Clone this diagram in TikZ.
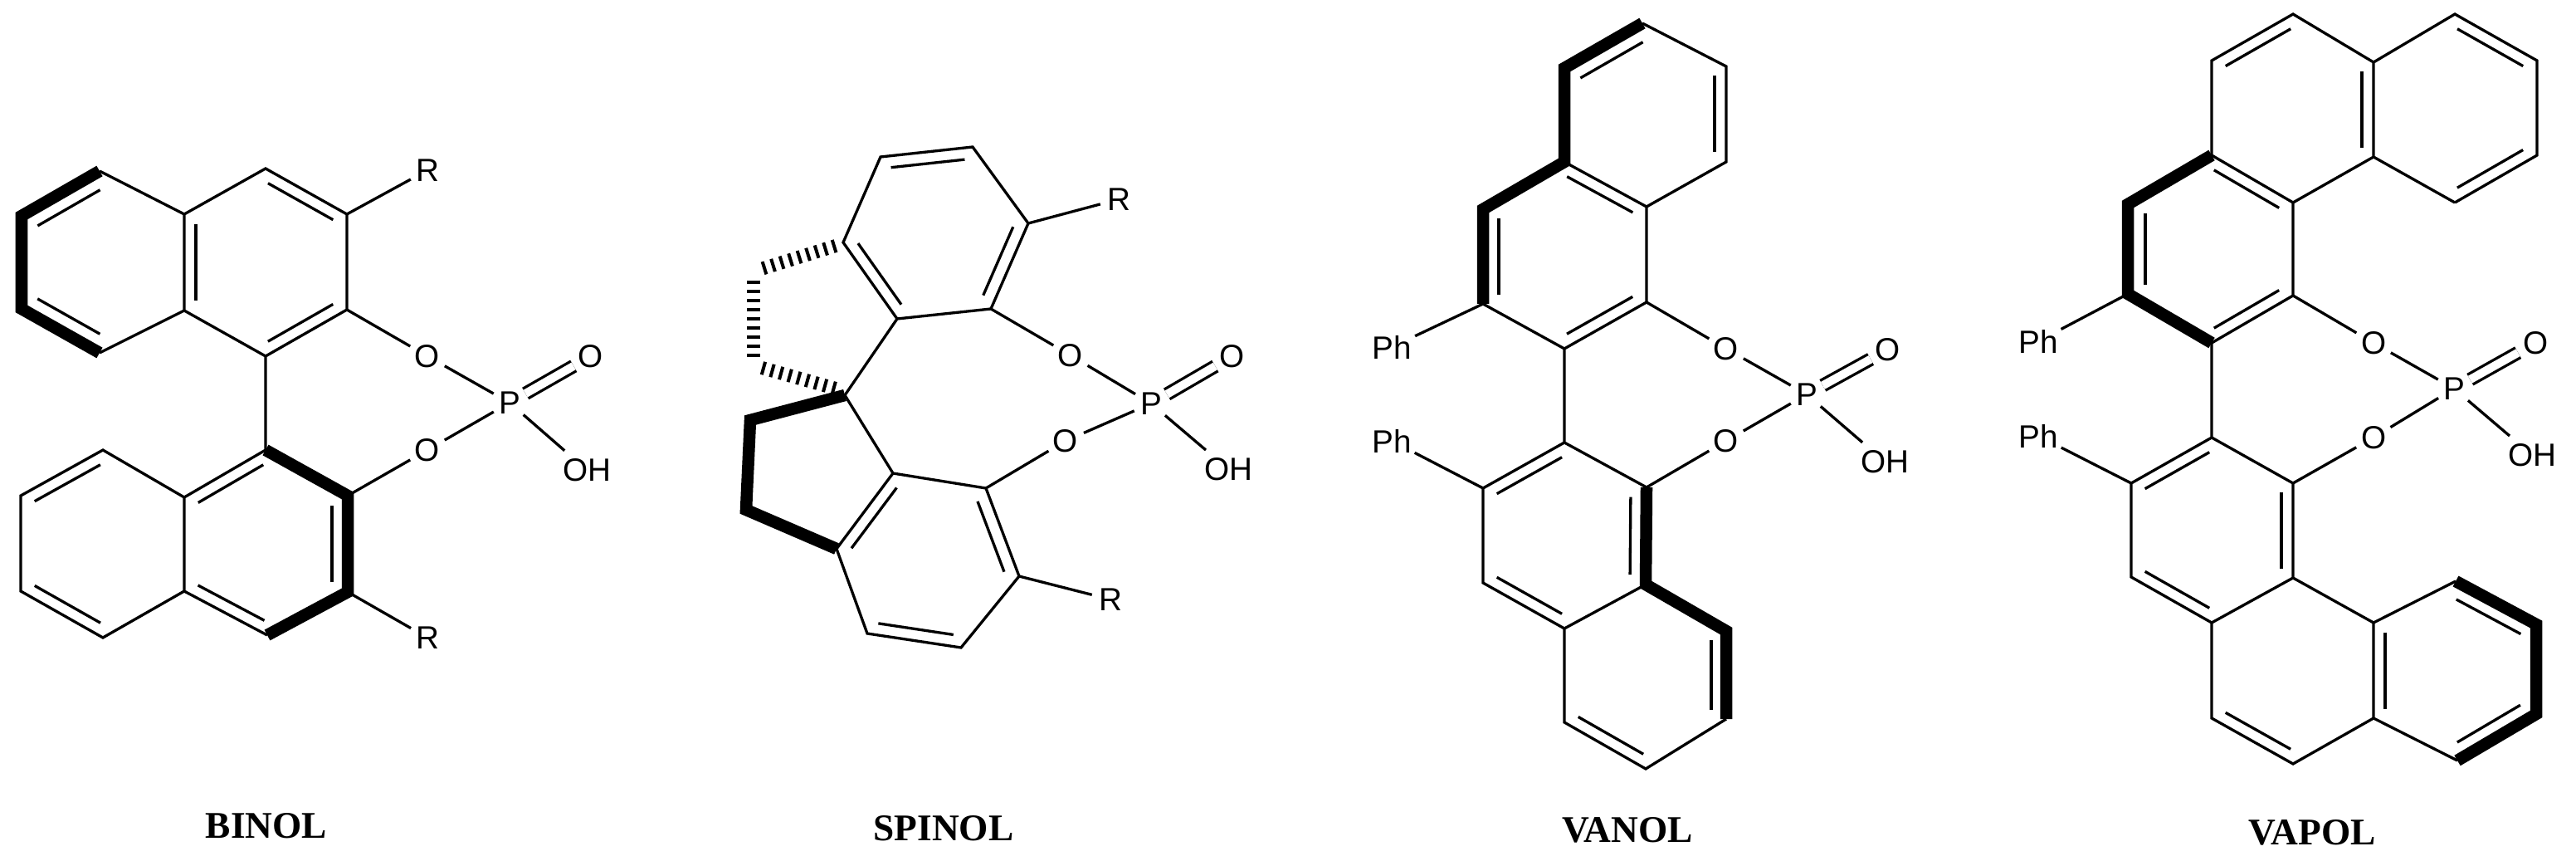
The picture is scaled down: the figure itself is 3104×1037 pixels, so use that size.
\documentclass[tikz,border=0pt]{standalone}
\usepackage{fontspec}
\setmainfont{Liberation Sans}
\newfontfamily\namefont{Liberation Serif}
\usetikzlibrary{calc}
\tikzset{
  bond/.style={line width=0.033cm},
  wedgebond/.style={line width=0.145cm},
  hashbond/.style={line width=0.16cm, dash pattern=on 0.04cm off 0.07cm},
  oxobond/.style={line width=0.033cm, double, double distance=0.1cm},
  atomlabel/.style={circle, inner sep=.6pt, font=\fontsize{11}{12}\selectfont},
  molname/.style={inner sep=0pt, font=\namefont\bfseries\fontsize{12.9}{15}\selectfont}
}
\newcommand{\dbond}[3][.14cm]{\draw[bond] ($(#2)!.1!(#3)!#1!90:(#3)$) -- ($(#3)!.1!(#2)!#1!-90:(#2)$);}
\begin{document}
\begin{tikzpicture}[x=0.01cm, y=-0.01cm]
\useasboundingbox (0,0) rectangle (3104,1037);

\coordinate (a1) at (120,206); \coordinate (a2) at (26,260); \coordinate (a3) at (26,372); \coordinate (a4) at (120,425);
\coordinate (a5) at (222,374); \coordinate (a6) at (222,258); \coordinate (a7) at (320,203); \coordinate (a8) at (418,258);
\coordinate (a9) at (418,373); \coordinate (a10) at (320,429);
\coordinate (b1) at (124,542); \coordinate (b2) at (25,597); \coordinate (b3) at (25,712); \coordinate (b4) at (124,768);
\coordinate (b5) at (222,712); \coordinate (b6) at (222,599); \coordinate (b7) at (322,765); \coordinate (b8) at (419,713);
\coordinate (b9) at (419,597); \coordinate (b10) at (320,542);
\node[atomlabel] (binolRa) at (515,205) {R};
\node[atomlabel] (binolRb) at (515,768) {R};
\node[atomlabel] (binolOa) at (515,429) {O};
\node[atomlabel] (binolOb) at (515,542) {O};
\node[atomlabel] (binolP) at (614,485) {P};
\node[atomlabel] (binolOc) at (712,429) {O};
\node[atomlabel] (binolOH) at (707,566) {OH};
\draw[bond] (a4) -- (a5) -- (a6) -- (a1) (a6) -- (a7) -- (a8) -- (a9) -- (a10) -- (a5) (a10) -- (b10) -- (b6) -- (b1) -- (b2) -- (b3) -- (b4) -- (b5) -- (b6) (b5) -- (b7);
\draw[bond] (a8) -- (binolRa) (b8) -- (binolRb) (a9) -- (binolOa) -- (binolP) -- (binolOb) -- (b9) (binolP) -- (binolOH);
\draw[oxobond] (binolP) -- (binolOc);
\draw[wedgebond] (a1) -- (a2) -- (a3) -- (a4);
\draw[wedgebond] (b10) -- (b9) -- (b8) -- (b7);
\dbond[.2cm]{a1}{a2} \dbond[.2cm]{a3}{a4} \dbond{a6}{a5} \dbond{a8}{a7} \dbond{a10}{a9}
\dbond{b1}{b2} \dbond{b3}{b4} \dbond{b5}{b7} \dbond{b10}{b6} \dbond[.19cm]{b8}{b9}
\node[molname] (binol) at (321,995) {BINOL};

\coordinate (c1) at (1061,189); \coordinate (c2) at (1172,177); \coordinate (c3) at (1239,269); \coordinate (c4) at (1194,372);
\coordinate (c5) at (1081,384); \coordinate (c6) at (1016,292); \coordinate (sp) at (1018,476);
\coordinate (d1) at (1045,763); \coordinate (d2) at (1158,780); \coordinate (d3) at (1228,694); \coordinate (d4) at (1188,588);
\coordinate (d5) at (1076,570); \coordinate (d6) at (1008,661);
\coordinate (e1) at (1007,296); \coordinate (e2) at (917,324); \coordinate (e3) at (908,338); \coordinate (e4) at (908,431);
\coordinate (e5) at (918,443); \coordinate (e6) at (1007,468);
\coordinate (f1) at (904,506); \coordinate (f2) at (899,614);
\node[atomlabel] (spinolRa) at (1348,240) {R};
\node[atomlabel] (spinolRb) at (1338,722) {R};
\node[atomlabel] (spinolOa) at (1290,428) {O};
\node[atomlabel] (spinolOb) at (1284,531) {O};
\node[atomlabel] (spinolP) at (1387,486) {P};
\node[atomlabel] (spinolOc) at (1485,429) {O};
\node[atomlabel] (spinolOH) at (1480,565) {OH};
\draw[bond] (c5) -- (c6) -- (c1) -- (c2) -- (c3) -- (c4) -- (c5) -- (sp) -- (d5) -- (d4) -- (d3) -- (d2) -- (d1) -- (d6) -- (d5);
\draw[bond] (c3) -- (spinolRa) (d3) -- (spinolRb) (c4) -- (spinolOa) -- (spinolP) -- (spinolOb) -- (d4) (spinolP) -- (spinolOH);
\draw[oxobond] (spinolP) -- (spinolOc);
\draw[wedgebond] (sp) -- (f1) -- (f2) -- (d6);
\draw[hashbond] (e1) -- (e2);
\draw[hashbond] (e3) -- (e4);
\draw[hashbond] (e5) -- (e6);
\dbond{c2}{c1} \dbond[.15cm]{c4}{c3} \dbond{c6}{c5}
\dbond{d5}{d6} \dbond[.15cm]{d3}{d4} \dbond{d1}{d2}
\node[molname] (spinol) at (1137,998) {SPINOL};

\coordinate (v1) at (1979,28); \coordinate (v2) at (2080,80); \coordinate (v3) at (2080,195); \coordinate (v4) at (1984,249);
\coordinate (v5) at (1885,195); \coordinate (v6) at (1885,82); \coordinate (v7) at (1787,252); \coordinate (v8) at (1787,366);
\coordinate (v9) at (1885,420); \coordinate (v10) at (1984,364);
\coordinate (w1) at (1983,926); \coordinate (w2) at (2080,866); \coordinate (w3) at (2080,760); \coordinate (w4) at (1983,704);
\coordinate (w5) at (1885,757); \coordinate (w6) at (1885,870); \coordinate (w7) at (1787,702); \coordinate (w8) at (1787,588);
\coordinate (w9) at (1885,533); \coordinate (w10) at (1984,587);
\node[atomlabel] (vanolPha) at (1677,418) {Ph};
\node[atomlabel] (vanolPhb) at (1677,531) {Ph};
\node[atomlabel] (vanolOa) at (2080,420) {O};
\node[atomlabel] (vanolOb) at (2080,531) {O};
\node[atomlabel] (vanolP) at (2177,475) {P};
\node[atomlabel] (vanolOc) at (2275,421) {O};
\node[atomlabel] (vanolOH) at (2271,556) {OH};
\draw[bond] (v1) -- (v2) -- (v3) -- (v4) -- (v5) (v4) -- (v10) -- (v9) -- (v8) (v9) -- (w9) -- (w10) (w9) -- (w8) -- (w7) -- (w5) -- (w4) (w5) -- (w6) -- (w1) -- (w2);
\draw[bond] (v8) -- (vanolPha) (w8) -- (vanolPhb) (v10) -- (vanolOa) -- (vanolP) -- (vanolOb) -- (w10) (vanolP) -- (vanolOH);
\draw[oxobond] (vanolP) -- (vanolOc);
\draw[wedgebond] (v1) -- (v6) -- (v5) -- (v7) -- (v8);
\draw[wedgebond] (w10) -- (w4) -- (w3) -- (w2);
\dbond[.2cm]{v1}{v6} \dbond{v3}{v2} \dbond{v4}{v5} \dbond[.19cm]{v7}{v8} \dbond{v9}{v10}
\dbond{w9}{w8} \dbond[.19cm]{w4}{w10} \dbond{w7}{w5} \dbond[.18cm]{w2}{w3} \dbond{w6}{w1}
\node[molname] (vanol) at (1961,1000) {VANOL};

\coordinate (t1) at (2958,17); \coordinate (t2) at (3057,73); \coordinate (t3) at (3057,187); \coordinate (t4) at (2958,244);
\coordinate (t5) at (2860,189); \coordinate (t6) at (2860,75);
\coordinate (u1) at (2763,17); \coordinate (u2) at (2665,73); \coordinate (u3) at (2665,187); \coordinate (u4) at (2763,244);
\coordinate (u5) at (2564,246); \coordinate (u6) at (2564,354); \coordinate (u7) at (2665,413); \coordinate (u8) at (2763,356);
\coordinate (x1) at (2763,920); \coordinate (x2) at (2665,865); \coordinate (x3) at (2763,696); \coordinate (x4) at (2665,750);
\coordinate (x5) at (2568,695); \coordinate (x6) at (2568,582); \coordinate (x7) at (2665,527); \coordinate (x8) at (2763,582);
\coordinate (y1) at (2959,700); \coordinate (y2) at (3056,752); \coordinate (y3) at (3056,860); \coordinate (y4) at (2961,916);
\coordinate (y5) at (2860,750); \coordinate (y6) at (2860,865);
\node[atomlabel] (vapolPha) at (2456,411) {Ph};
\node[atomlabel] (vapolPhb) at (2456,525) {Ph};
\node[atomlabel] (vapolOa) at (2860,413) {O};
\node[atomlabel] (vapolOb) at (2860,527) {O};
\node[atomlabel] (vapolP) at (2957,468) {P};
\node[atomlabel] (vapolOc) at (3055,413) {O};
\node[atomlabel] (vapolOH) at (3051,548) {OH};
\draw[bond] (t4) -- (t5) -- (t6) -- (t1) -- (t2) -- (t3) -- (t4) (t6) -- (u1) -- (u2) -- (u3) -- (u4) -- (t5) (u4) -- (u8) -- (u7) -- (x7) -- (x8) -- (x3) -- (x4) -- (x5) -- (x6) -- (x7) (x4) -- (x2) -- (x1) -- (y6) -- (y5) -- (x3) (y5) -- (y1) (y4) -- (y6);
\draw[bond] (u6) -- (vapolPha) (x6) -- (vapolPhb) (u8) -- (vapolOa) -- (vapolP) -- (vapolOb) -- (x8) (vapolP) -- (vapolOH);
\draw[oxobond] (vapolP) -- (vapolOc);
\draw[wedgebond] (u3) -- (u5) -- (u6) -- (u7);
\draw[wedgebond] (y1) -- (y2) -- (y3) -- (y4);
\dbond{t2}{t1} \dbond{t4}{t3} \dbond{t5}{t6} \dbond{u1}{u2} \dbond{u4}{u3} \dbond[.21cm]{u5}{u6} \dbond{u7}{u8}
\dbond{x7}{x6} \dbond{x3}{x8} \dbond{x5}{x4} \dbond{x2}{x1} \dbond{y5}{y6} \dbond[.19cm]{y2}{y1} \dbond[.19cm]{y4}{y3}
\node[molname] (vapol) at (2786,1003) {VAPOL};
\end{tikzpicture}
\end{document}
